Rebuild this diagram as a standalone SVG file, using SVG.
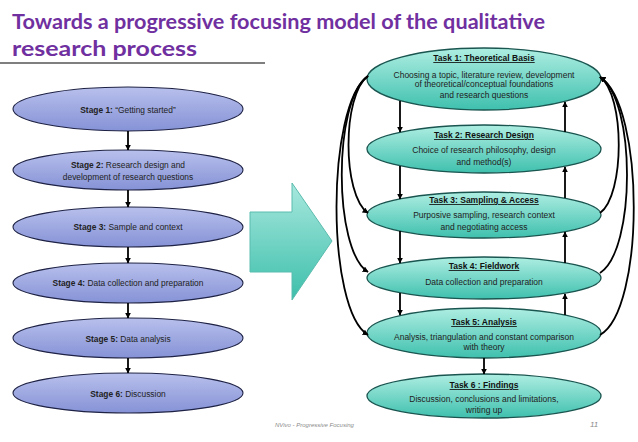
<svg xmlns="http://www.w3.org/2000/svg" width="638" height="442" viewBox="0 0 638 442">
<defs>
<linearGradient id="gStage" x1="0" y1="0" x2="0" y2="1">
<stop offset="0" stop-color="#b8c0ec"/>
<stop offset="1" stop-color="#8592d6"/>
</linearGradient>
<linearGradient id="gTask" x1="0" y1="0" x2="0" y2="1">
<stop offset="0" stop-color="#aeeee2"/>
<stop offset="1" stop-color="#3fc0ae"/>
</linearGradient>
<linearGradient id="gArrow" x1="0" y1="0" x2="0" y2="1">
<stop offset="0" stop-color="#a8e8de"/>
<stop offset="1" stop-color="#3dbfab"/>
</linearGradient>
<marker id="ah" viewBox="0 0 10 10" refX="9" refY="5" markerWidth="6" markerHeight="6" markerUnits="userSpaceOnUse" orient="auto">
<path d="M0,0 L10,5 L0,10 Z" fill="#000"/>
</marker>
<style>
.stage{fill:url(#gStage);stroke:#1e2244;stroke-width:1.1}
.task{fill:url(#gTask);stroke:#1a5550;stroke-width:1.3}
.t{font-family:"Liberation Sans",Arial,sans-serif;font-size:8.4px;fill:#222;text-anchor:middle}
.tt{font-family:"Liberation Sans",Arial,sans-serif;font-size:8.5px;fill:#111;text-anchor:middle;font-weight:bold;text-decoration:underline}
.tb{font-family:"Liberation Sans",Arial,sans-serif;font-size:8.5px;fill:#222;text-anchor:middle}
.c{fill:none;stroke:#000;stroke-width:1.8;marker-end:url(#ah)}
</style>
</defs>
<rect width="638" height="442" fill="#fff"/>
<g id="title">
<text x="12" y="29" font-family="Lato,'Open Sans',sans-serif" font-weight="bold" font-size="21" fill="#7030a0" textLength="533" lengthAdjust="spacingAndGlyphs">Towards a progressive focusing model of the qualitative</text>
<text x="12" y="56" font-family="Lato,'Open Sans',sans-serif" font-weight="bold" font-size="21" fill="#7030a0" textLength="185" lengthAdjust="spacingAndGlyphs">research process</text>
<line x1="0" y1="63" x2="265" y2="63" stroke="#000" stroke-width="1.2"/>
</g>
<g id="stage1"><ellipse class="stage" cx="128" cy="109" rx="115" ry="22"/><text class="t" x="128" y="113"><tspan font-weight="bold">Stage 1:</tspan> “Getting started”</text></g>
<g id="stage2"><ellipse class="stage" cx="128" cy="170" rx="115" ry="20"/><text class="t" x="128" y="168"><tspan font-weight="bold">Stage 2:</tspan> Research design and</text><text class="t" x="128" y="180">development of research questions</text></g>
<g id="stage3"><ellipse class="stage" cx="128" cy="227" rx="115" ry="20"/><text class="t" x="128" y="230"><tspan font-weight="bold">Stage 3:</tspan> Sample and context</text></g>
<g id="stage4"><ellipse class="stage" cx="128" cy="283" rx="115" ry="20"/><text class="t" x="128" y="286"><tspan font-weight="bold">Stage 4:</tspan> Data collection and preparation</text></g>
<g id="stage5"><ellipse class="stage" cx="128" cy="338" rx="115" ry="20"/><text class="t" x="128" y="342"><tspan font-weight="bold">Stage 5:</tspan> Data analysis</text></g>
<g id="stage6"><ellipse class="stage" cx="128" cy="393" rx="115" ry="20"/><text class="t" x="128" y="397"><tspan font-weight="bold">Stage 6:</tspan> Discussion</text></g>
<g id="bigarrow"><polygon points="250,212 292,212 292,183 332,241 292,300 292,272 250,272" fill="url(#gArrow)" stroke="#5bbcae" stroke-width="1"/></g>
<g id="task1"><ellipse class="task" cx="484" cy="79" rx="117" ry="31"/><text class="tt" x="484" y="61">Task 1: Theoretical Basis</text><text class="tb" x="484" y="78">Choosing a topic, literature review, development</text><text class="tb" x="484" y="87">of theoretical/conceptual foundations</text><text class="tb" x="484" y="98">and research questions</text></g>
<g id="task2"><ellipse class="task" cx="484" cy="149" rx="117" ry="24"/><text class="tt" x="484" y="138">Task 2: Research Design</text><text class="tb" x="484" y="153">Choice of research philosophy, design</text><text class="tb" x="484" y="165">and method(s)</text></g>
<g id="task3"><ellipse class="task" cx="484" cy="215" rx="117" ry="23"/><text class="tt" x="484" y="203">Task 3: Sampling &amp; Access</text><text class="tb" x="484" y="218">Purposive sampling, research context</text><text class="tb" x="484" y="230">and negotiating access</text></g>
<g id="task4"><ellipse class="task" cx="484" cy="278" rx="117" ry="21"/><text class="tt" x="484" y="269">Task 4: Fieldwork</text><text class="tb" x="484" y="285">Data collection and preparation</text></g>
<g id="task5"><ellipse class="task" cx="484" cy="333" rx="117" ry="25"/><text class="tt" x="484" y="325">Task 5: Analysis</text><text class="tb" x="484" y="340">Analysis, triangulation and constant comparison</text><text class="tb" x="484" y="350">with theory</text></g>
<g id="task6"><ellipse class="task" cx="484" cy="396" rx="117" ry="22"/><text class="tt" x="484" y="388">Task 6 : Findings</text><text class="tb" x="484" y="402">Discussion, conclusions and limitations,</text><text class="tb" x="484" y="413">writing up</text></g>
<g id="connectors">
<line class="c" x1="128" y1="131" x2="128" y2="150"/>
<line class="c" x1="128" y1="190" x2="128" y2="207"/>
<line class="c" x1="128" y1="247" x2="128" y2="263"/>
<line class="c" x1="128" y1="303" x2="128" y2="318"/>
<line class="c" x1="128" y1="358" x2="128" y2="373"/>
<line class="c" x1="400" y1="101" x2="400" y2="132"/>
<line class="c" x1="400" y1="166" x2="400" y2="199"/>
<line class="c" x1="400" y1="231" x2="400" y2="263"/>
<line class="c" x1="400" y1="293" x2="400" y2="315"/>
<line class="c" x1="565" y1="132" x2="565" y2="102"/>
<line class="c" x1="565" y1="198" x2="565" y2="167"/>
<line class="c" x1="565" y1="263" x2="565" y2="232"/>
<line class="c" x1="565" y1="315" x2="565" y2="294"/>
<line class="c" x1="484" y1="358" x2="484" y2="374"/>
<path class="c" d="M368,76 C342,95 342,195 368,213"/>
<path class="c" d="M368,76 C333,100 333,250 368,272"/>
<path class="c" d="M368,76 C326,105 326,310 368,335"/>
<path class="c" d="M600,213 C625,195 625,95 600,77"/>
<path class="c" d="M600,273 C636,250 636,100 600,77"/>
<path class="c" d="M600,335 C645,310 645,105 600,77"/>
</g>
<g id="footer">
<text x="275" y="427" font-family="'Liberation Sans',Arial,sans-serif" font-style="italic" font-size="6" fill="#8a8a8a">NVivo - Progressive Focusing</text>
<text x="590" y="427" font-family="'Liberation Sans',Arial,sans-serif" font-style="italic" font-size="8" fill="#8a8a8a">11</text>
</g>
</svg>
